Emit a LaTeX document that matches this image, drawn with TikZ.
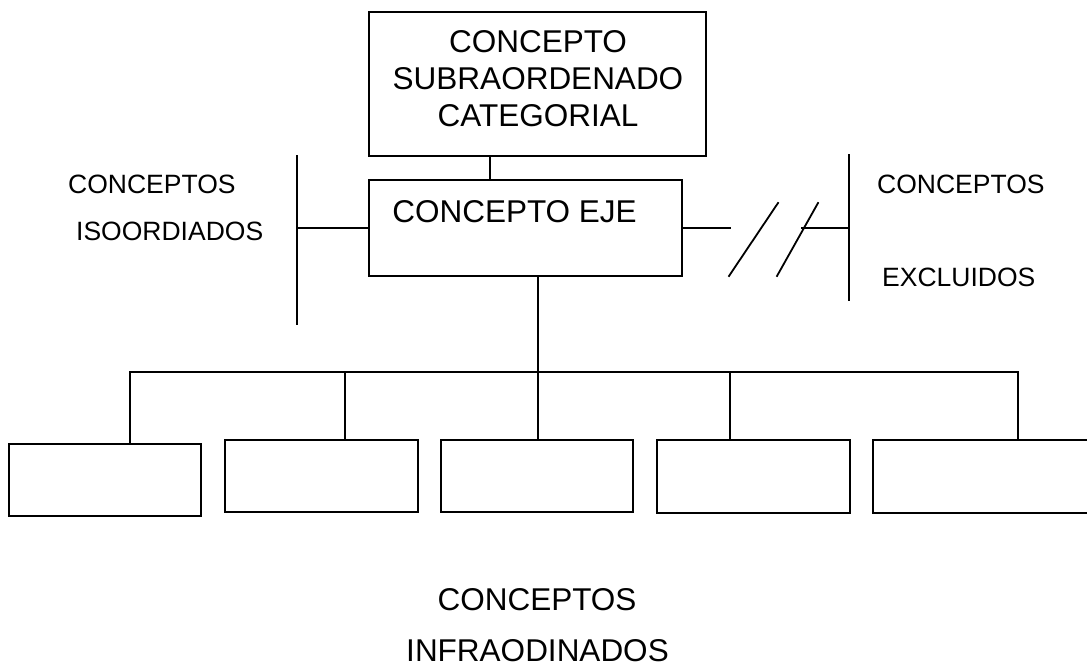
\documentclass[tikz,border=0pt]{standalone}
\usepackage{fontspec}
\setmainfont{Liberation Sans}
\begin{document}
\begin{tikzpicture}[x=1pt,y=-1pt,
  line/.style={line width=1.8pt, line cap=rect},
  box/.style={draw, line width=1.8pt, inner sep=0, minimum width=#1},
  small/.style={inner sep=0, font=\fontsize{26.5}{30}\selectfont},
  big/.style={inner sep=0, font=\fontsize{31.5}{37}\selectfont}]
\useasboundingbox (0,0) rectangle (1087,669);
\clip (0,0) rectangle (1087,669);
% main boxes
\node[box=337, minimum height=144] (top) at (537.5,84) {};
\node[box=313, minimum height=96] (eje) at (525.5,228) {};
\node[big, align=center, anchor=north] (toptxt) at (538,30) {CONCEPTO\\SUBRAORDENADO\\CATEGORIAL};
\node[big, anchor=base] (ejetxt) at (514.5,222) {CONCEPTO EJE};
% bottom boxes
\node[box=192, minimum height=72] (b1) at (105,480) {};
\node[box=193, minimum height=72] (b2) at (321.5,476) {};
\node[box=192, minimum height=72] (b3) at (537,476) {};
\node[box=193, minimum height=73] (b4) at (753.5,476.5) {};
\node[box=222, minimum height=73] (b5) at (984,476.5) {};
% coordinates
\coordinate (c1) at (490,168);
\coordinate (lvt) at (297,156);
\coordinate (lvb) at (297,324);
\coordinate (lh) at (297,228);
\coordinate (rh1) at (730,228);
\coordinate (s1a) at (729,276);
\coordinate (s1b) at (778,203);
\coordinate (s2a) at (777,276);
\coordinate (s2b) at (818,203);
\coordinate (rh2) at (802,228);
\coordinate (rvt) at (849,155);
\coordinate (rvb) at (849,300);
\coordinate (rvm) at (849,228);
\coordinate (hl) at (130,372);
\coordinate (hr) at (1018,372);
\coordinate (hm) at (538,372);
% connectors
\draw[line] (top.south -| c1) -- (eje.north -| c1);
\draw[line] (lvt) -- (lvb);
\draw[line] (lh) -- (eje.west |- lh);
\draw[line] (eje.east |- rh1) -- (rh1);
\draw[line] (s1a) -- (s1b);
\draw[line] (s2a) -- (s2b);
\draw[line] (rh2) -- (rvm);
\draw[line] (rvt) -- (rvb);
\draw[line] (eje.south -| hm) -- (hm);
\draw[line] (hl) -- (hr);
\draw[line] (hl) -- (b1.north -| hl);
\draw[line] (345,372) coordinate (d2) -- (b2.north -| d2);
\draw[line] (hm) -- (b3.north -| hm);
\draw[line] (730,372) coordinate (d4) -- (b4.north -| d4);
\draw[line] (hr) -- (b5.north -| hr);
% side texts
\node[small, anchor=base west] (lt1) at (68,193) {CONCEPTOS};
\node[small, anchor=base west] (lt2) at (76,240) {ISOORDIADOS};
\node[small, anchor=base west] (rt1) at (877,193) {CONCEPTOS};
\node[small, anchor=base west] (rt2) at (882,286) {EXCLUIDOS};
\node[big, anchor=base] (bt1) at (537,610) {CONCEPTOS};
\node[big, anchor=base] (bt2) at (537.5,661) {INFRAODINADOS};
\end{tikzpicture}
\end{document}
